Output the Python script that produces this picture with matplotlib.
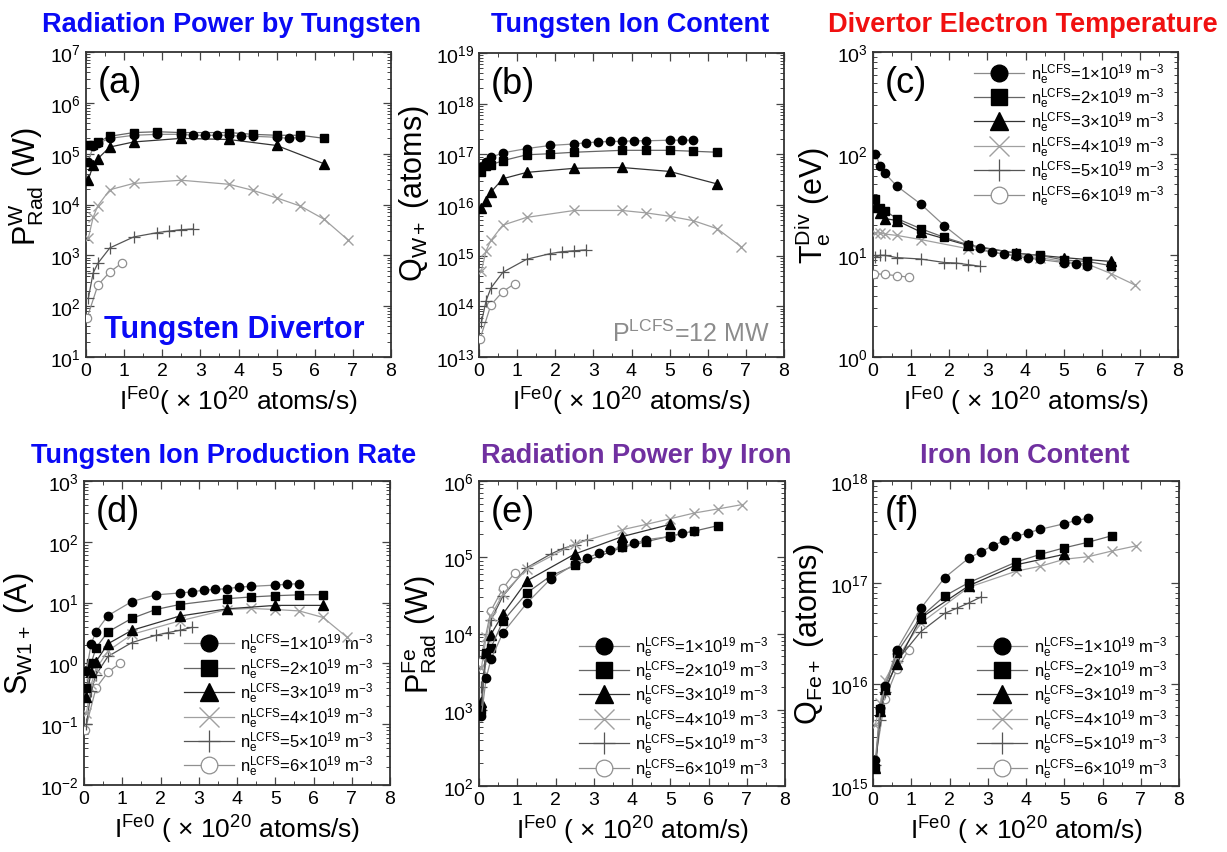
import numpy as np
import matplotlib
matplotlib.use('Agg')
import matplotlib.pyplot as plt
from matplotlib.ticker import LogLocator, NullFormatter, MultipleLocator

plt.rcParams['font.family'] = ['Liberation Sans', 'DejaVu Sans']
plt.rcParams['mathtext.fontset'] = 'custom'
plt.rcParams['mathtext.rm'] = 'Liberation Sans'
plt.rcParams['mathtext.it'] = 'Liberation Sans'
plt.rcParams['mathtext.bf'] = 'Liberation Sans:bold'

nan = np.nan

# injection rate of iron (x 1e20 atoms/s), one grid per density
x1 = [0.0625, 0.1875, 0.3125, 0.625, 1.25, 1.875, 2.5, 2.8125, 3.125, 3.4375, 3.75, 4.0625, 4.375, 5.0, 5.3125, 5.625]
x2 = [0.0625, 0.1875, 0.3125, 0.625, 1.25, 1.875, 2.5, 3.75, 4.375, 5.0, 5.625, 6.25]
x3 = [0.0625, 0.1875, 0.3125, 0.625, 1.25, 2.5, 3.75, 5.0, 6.25]
x4 = [0.0625, 0.1875, 0.3125, 0.625, 1.25, 2.5, 3.75, 4.375, 5.0, 5.625, 6.25, 6.875]
x5 = [0.0625, 0.1875, 0.3125, 0.625, 1.25, 1.875, 2.1875, 2.5, 2.8125]
x6 = [0.03, 0.3125, 0.625, 0.9375]

# (a) radiation power by tungsten
a1 = [7e4, 1.4e5, 1.6e5, 2.0e5, 2.3e5, 2.4e5, 2.4e5, 2.3e5, 2.3e5, 2.3e5, 2.3e5, 2.2e5, 2.2e5, 2.1e5, 2.0e5, 2.1e5]
a2 = [1.45e5, 1.5e5, 1.7e5, 2.2e5, 2.6e5, 2.7e5, 2.6e5, 2.6e5, 2.4e5, 2.3e5, 2.3e5, 2.0e5]
a3 = [3.1e4, 5.9e4, 8e4, 1.35e5, 1.7e5, 2.0e5, 1.9e5, 1.45e5, 6.3e4]
a4 = [2.2e3, 5.6e3, 9.5e3, 1.95e4, 2.6e4, 3.0e4, 2.5e4, 1.9e4, 1.35e4, 9.3e3, 5.1e3, 2.0e3]
a5 = [1.45e2, 4.5e2, 7e2, 1.4e3, 2.3e3, 2.8e3, 3.0e3, 3.2e3, 3.3e3]
a6 = [59, 2.6e2, 4.7e2, 7e2]

# (b) tungsten ion content
b1 = [5.5e16, 7.2e16, 8.7e16, 1.07e17, 1.3e17, 1.5e17, 1.6e17, 1.7e17, 1.75e17, 1.8e17, 1.8e17, 1.85e17, 1.85e17, 1.9e17, 1.9e17, 1.9e17]
b2 = [4.5e16, 6e16, 6.2e16, 7.5e16, 9.8e16, 1.03e17, 1.1e17, 1.2e17, 1.2e17, 1.2e17, 1.15e17, 1.1e17]
b3 = [8.7e15, 1.2e16, 1.8e16, 3.3e16, 4.4e16, 5.3e16, 5.5e16, 4.6e16, 2.6e16]
b4 = [5e14, 1.26e15, 2e15, 4.0e15, 5.7e15, 7.8e15, 7.8e15, 7e15, 6e15, 4.9e15, 3.4e15, 1.5e15]
b5 = [4.8e13, 1.3e14, 2.3e14, 4.7e14, 8.5e14, 1.1e15, 1.2e15, 1.25e15, 1.3e15]
b6 = [2.3e13, 1.07e14, 1.96e14, 2.8e14]

# (c) divertor electron temperature
c1 = [100, 76, 64, 48, 32, 19.5, 12.7, 11.7, 10.7, 10.3, 9.8, 9.4, 9.1, 8.5, 8.3, 7.9]
c2 = [36, 29.5, 27.5, 23, 18.3, 15, 12.7, 10.5, 10, 9.0, 8.7, 7.9]
c3 = [30, 26, 23, 22, 17, 12.5, 10.5, 9.5, 8.7]
c4 = [16.6, 16.6, 16.2, 15.7, 14.3, 11.6, 10.0, 9.5, 8.7, 8.2, 6.6, 5.1]
c5 = [9.6, 10, 10, 9.5, 9.2, 8.5, 8.4, 8.1, 7.8]
c6 = [6.6, 6.5, 6.3, 6.1]

# (d) tungsten ion production rate
d1 = [0.75, 2.1, 3.3, 6.1, 10.4, 13.4, 14.4, 15, 16, 16.5, 17, 18, 18.5, 19.4, 20, 20.5]
d2 = [0.4, 1.0, 1.8, 3.3, 5.5, 7.7, 9.3, 11.6, 12.4, 13, 13.4, 13.5]
d3 = [0.28, 0.72, 1.07, 2.1, 3.5, 6.0, 7.9, 9, 9]
d4 = [0.15, 0.45, 0.8, 1.6, 3.0, 5.0, 7.7, 8, 7.7, 7.3, 5.7, 2.7]
d5 = [0.1, 0.35, 0.65, 1.3, 2.2, 2.9, 3.2, 3.5, 3.9]
d6 = [0.08, 0.39, 0.72, 1.0]

# (e) radiation power by iron
e1 = [8.3e2, 2.6e3, 4.6e3, 1.02e4, 2.5e4, 5.2e4, 8.1e4, 9.8e4, 1.12e5, 1.25e5, 1.38e5, 1.52e5, 1.7e5, 1.87e5, 2.05e5, 2.2e5]
e2 = [1.0e3, 5.6e3, 6.5e3, 1.45e4, 3.4e4, 5.7e4, 7.8e4, 1.35e5, 1.6e5, 1.9e5, 2.2e5, 2.6e5]
e3 = [1.25e3, 5.6e3, 9.7e3, 1.8e4, 4.9e4, 1.1e5, 1.87e5, 2.7e5, nan]
e4 = [3.5e3, 9e3, 1.7e4, 3.3e4, 7e4, 1.5e5, 2.3e5, 2.7e5, 3.2e5, 3.8e5, 4.3e5, 4.9e5]
e5 = [2e3, 5e3, 1.5e4, 3.1e4, 7.3e4, 1.1e5, 1.3e5, 1.45e5, 1.7e5]
e6 = [4.2e3, 2.0e4, 3.9e4, 6.3e4]

# (f) iron ion content
f1 = [1.8e15, 5.9e15, 9.6e15, 2.2e16, 5.6e16, 1.12e17, 1.74e17, 2.0e17, 2.3e17, 2.6e17, 2.85e17, 3.1e17, 3.35e17, 3.8e17, 4.1e17, 4.3e17]
f2 = [1.5e15, 5.7e15, 9.3e15, 2.05e16, 4.6e16, 7.4e16, 1.0e17, 1.6e17, 1.9e17, 2.2e17, 2.5e17, 2.9e17]
f3 = [1.5e15, 5.5e15, 9e15, 1.6e16, 4.5e16, 9.3e16, 1.5e17, 1.9e17, nan]
f4 = [4e15, 6.5e15, 1.1e16, 1.8e16, 4e16, 9e16, 1.3e17, 1.45e17, 1.7e17, 1.8e17, 2.05e17, 2.3e17]
f5 = [1.6e15, 4.5e15, 8.5e15, 1.7e16, 3.3e16, 5e16, 5.6e16, 6.3e16, 7.2e16]
f6 = [1.5e15, 7.2e15, 1.4e16, 2.2e16]

xs = [x1, x2, x3, x4, x5, x6]
density_labels = [r'n$_\mathregular{e}^\mathregular{LCFS}$=%d×10$^\mathregular{19}$ m$^\mathregular{-3}$' % k for k in range(1, 7)]

# marker, face, edge, line colour, size
styles = [
    dict(marker='o', mfc='black', mec='black', color='#8a8a8a', ms=6),
    dict(marker='s', mfc='black', mec='black', color='#666666', ms=6),
    dict(marker='^', mfc='black', mec='black', color='#333333', ms=6.5),
    dict(marker='x', mfc='none', mec='#a0a0a0', color='#a0a0a0', ms=7, mew=1.0),
    dict(marker='+', mfc='none', mec='#555555', color='#555555', ms=8, mew=0.9),
    dict(marker='o', mfc='white', mec='#909090', color='#909090', ms=6, mew=0.9),
]

W, H = 1227, 853
fig = plt.figure(figsize=(W / 100, H / 100), dpi=100)


def make_ax(left, top, right, bottom):
    return fig.add_axes([left / W, 1 - bottom / H, (right - left) / W, (bottom - top) / H])


def panel(ax, ys, ylim, ylabel, xlabel, tag, ylab_y=0.5):
    lines = []
    for i in range(5, -1, -1):
        st = dict(styles[i])
        ln, = ax.plot(xs[i], ys[i], lw=0.9, zorder=3 + (6 - i), **st)
        lines.append(ln)
    lines = lines[::-1]
    ax.set_yscale('log')
    ax.set_xlim(0, 8)
    ax.set_ylim(*ylim)
    ax.xaxis.set_major_locator(MultipleLocator(1))
    ax.xaxis.set_minor_locator(MultipleLocator(0.5))
    ax.yaxis.set_major_locator(LogLocator(base=10, numticks=20))
    ax.yaxis.set_minor_locator(LogLocator(base=10, subs=np.arange(2, 10), numticks=100))
    ax.yaxis.set_minor_formatter(NullFormatter())
    ax.tick_params(which='both', direction='in', top=True, right=True, labelsize=14, color='#444444')
    ax.tick_params(which='major', length=6, width=0.9)
    ax.tick_params(which='minor', length=3, width=0.7)
    for s in ax.spines.values():
        s.set_linewidth(1.3)
        s.set_color('#333333')
    ax.set_ylabel(ylabel, fontsize=22, labelpad=3)
    ax.yaxis.label.set_y(ylab_y)
    ax.set_xlabel(xlabel, fontsize=19, labelpad=4)
    ax.text(0.04, 0.9, tag, transform=ax.transAxes, fontsize=26, va='center', ha='left')
    return lines


def legend(ax, lines, loc, anchor):
    ax.legend(lines, density_labels, loc=loc, bbox_to_anchor=anchor, frameon=False,
              fontsize=12, markerscale=2.0, handlelength=3.0, handletextpad=0.4,
              labelspacing=0.0, borderaxespad=0.0, borderpad=0.0)


xl_a = r'I$^\mathregular{Fe0}$( × 10$^\mathregular{20}$ atoms/s)'
xl_c = r'I$^\mathregular{Fe0}$ ( × 10$^\mathregular{20}$ atoms/s)'
xl_e = r'I$^\mathregular{Fe0}$ ( × 10$^\mathregular{20}$ atom/s)'

ax_a = make_ax(86, 53, 391, 358)
panel(ax_a, [a1, a2, a3, a4, a5, a6], (1e1, 1e7), r'P$_\mathregular{Rad}^\mathregular{W}$ (W)', xl_a, '(a)', 0.56)
ax_a.text(0.485, 0.092, 'Tungsten Divertor', transform=ax_a.transAxes, fontsize=22,
          fontweight='bold', color='#0a0af5', ha='center', va='center')

ax_b = make_ax(479, 54, 784, 358)
panel(ax_b, [b1, b2, b3, b4, b5, b6], (1e13, 1e19), r'Q$_\mathregular{W+}$ (atoms)', xl_a, '(b)', 0.54)
ax_b.text(0.955, 0.08, r'P$^\mathregular{LCFS}$=12 MW', transform=ax_b.transAxes, fontsize=18,
          color='#8c8c8c', ha='right', va='center')

ax_c = make_ax(873, 53, 1178, 358)
lines_c = panel(ax_c, [c1, c2, c3, c4, c5, c6], (1e0, 1e3), r'T$_\mathregular{e}^\mathregular{Div}$ (eV)', xl_c, '(c)')
legend(ax_c, lines_c, 'upper right', (0.955, 0.97))

ax_d = make_ax(84, 482, 390, 786)
lines_d = panel(ax_d, [d1, d2, d3, d4, d5, d6], (1e-2, 1e3), r'S$_\mathregular{W1+}$ (A)', xl_c, '(d)')
legend(ax_d, lines_d, 'lower right', (0.948, 0.022))

ax_e = make_ax(479, 482, 785, 787)
lines_e = panel(ax_e, [e1, e2, e3, e4, e5, e6], (1e2, 1e6), r'P$_\mathregular{Rad}^\mathregular{Fe}$ (W)', xl_e, '(e)')
legend(ax_e, lines_e, 'lower right', (0.948, 0.018))

ax_f = make_ax(873, 482, 1179, 787)
lines_f = panel(ax_f, [f1, f2, f3, f4, f5, f6], (1e15, 1e18), r'Q$_\mathregular{Fe+}$ (atoms)', xl_e, '(f)')
legend(ax_f, lines_f, 'lower right', (0.962, 0.018))

blue = '#0a0af5'
red = '#f01010'
purple = '#7030a0'
titles = [
    ('Radiation Power by Tungsten', 231, 32, blue),
    ('Tungsten Ion Content', 630, 32, blue),
    ('Divertor Electron Temperature', 1023, 32, red),
    ('Tungsten Ion Production Rate', 224, 463, blue),
    ('Radiation Power by Iron', 636, 463, purple),
    ('Iron Ion Content', 1025, 463, purple),
]
for txt, cx, cy, col in titles:
    fig.text(cx / W, 1 - cy / H, txt, fontsize=19.5, fontweight='bold', color=col,
             ha='center', va='baseline')

fig.savefig('out.png', dpi=100)
